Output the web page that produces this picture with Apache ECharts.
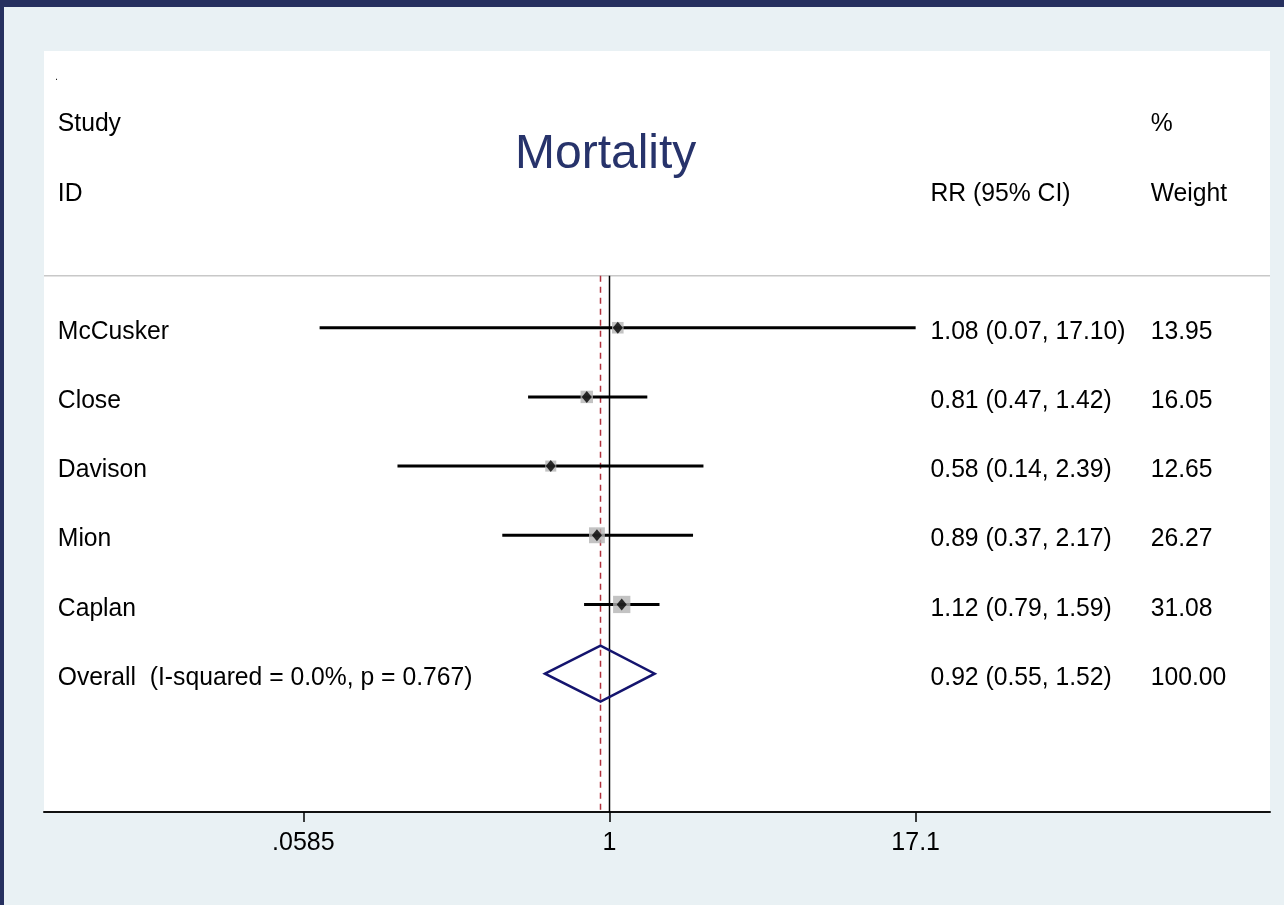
<!DOCTYPE html>
<html><head><meta charset="utf-8">
<script src="https://cdn.jsdelivr.net/npm/echarts@6/dist/echarts.min.js"></script>
<style>html,body{margin:0;padding:0;background:#e9f1f4}#c{width:1284px;height:905px}</style>
</head><body><div id="c"></div><script>
// ---- data ----
const studies = ['McCusker', 'Close', 'Davison', 'Mion', 'Caplan'];
const rr = [1.08, 0.81, 0.58, 0.89, 1.12];
const ciLow = [0.068, 0.47, 0.14, 0.37, 0.79];
const ciHigh = [17.10, 1.42, 2.39, 2.17, 1.59];
const weights = [13.95, 16.05, 12.65, 26.27, 31.08];
const rrText = ['1.08 (0.07, 17.10)', '0.81 (0.47, 1.42)', '0.58 (0.14, 2.39)', '0.89 (0.37, 2.17)', '1.12 (0.79, 1.59)'];
const weightText = ['13.95', '16.05', '12.65', '26.27', '31.08'];
const overallLabel = 'Overall  (I-squared = 0.0%, p = 0.767)';
const overallRR = 0.92, overallLow = 0.55, overallHigh = 1.52;
const overallRRText = '0.92 (0.55, 1.52)';
const overallWeightText = '100.00';
const tickValues = [0.0585, 1, 17.1];
const tickLabels = ['.0585', '1', '17.1'];

// ---- layout (log-RR space for x, row index for y) ----
const X_MIN = -5.244, X_MAX = 6.125;
const Y_MIN = -3, Y_MAX = 8;
const COL_ID = -5.116, COL_RR = 2.977, COL_W = 5.019;
const SEP_Y = 0.25;
const TEXT_DY = 4;
const FONT = '"Liberation Sans", Arial, Helvetica, sans-serif';
const ln = Math.log;

const rows = studies.map((s, i) => i + 1);
const overallRow = studies.length + 1;

const texts = [
  {x: COL_ID - 0.023, y: -2.62, t: '.', small: true},
  {x: COL_ID, y: -2, t: 'Study'},
  {x: COL_ID, y: -1, t: 'ID'},
  {x: COL_W, y: -2, t: '%'},
  {x: COL_RR, y: -1, t: 'RR (95% CI)'},
  {x: COL_W, y: -1, t: 'Weight'}
];
studies.forEach((s, i) => {
  texts.push({x: COL_ID, y: rows[i], t: s});
  texts.push({x: COL_RR, y: rows[i], t: rrText[i]});
  texts.push({x: COL_W, y: rows[i], t: weightText[i]});
});
texts.push({x: COL_ID, y: overallRow, t: overallLabel});
texts.push({x: COL_RR, y: overallRow, t: overallRRText});
texts.push({x: COL_W, y: overallRow, t: overallWeightText});

const refLines = [
  {x1: X_MIN, y1: SEP_Y, x2: X_MAX, y2: SEP_Y, color: '#c8c8c8', w: 1.5, dash: null},
  {x1: 0, y1: SEP_Y, x2: 0, y2: Y_MAX, color: '#000', w: 1.5, dash: null},
  {x1: ln(overallRR), y1: SEP_Y, x2: ln(overallRR), y2: Y_MAX, color: '#b0303c', w: 1.5, dash: [6, 5]}
];

const chart = echarts.init(document.getElementById('c'), null, {renderer: 'canvas'});
chart.setOption({
  backgroundColor: '#e9f1f4',
  animation: false,
  title: {
    text: 'Mortality', left: 510, top: 126,
    textStyle: {fontSize: 48, fontWeight: 'normal', color: '#27336b', fontFamily: FONT}
  },
  graphic: [
    {type: 'rect', shape: {x: 0, y: 0, width: 1284, height: 7}, style: {fill: '#26305f'}, z: 100},
    {type: 'rect', shape: {x: 0, y: 0, width: 4, height: 905}, style: {fill: '#26305f'}, z: 100}
  ],
  grid: {left: 44, right: 14, top: 51, bottom: 93, show: true, backgroundColor: '#ffffff', borderWidth: 0},
  xAxis: {
    type: 'value', min: X_MIN, max: X_MAX,
    axisLine: {show: true, onZero: false, lineStyle: {color: '#111', width: 2}},
    axisTick: {show: true, customValues: tickValues.map(ln), length: 10, lineStyle: {color: '#000', width: 1.5}},
    axisLabel: {
      show: true, customValues: tickValues.map(ln), margin: 19, fontSize: 25, color: '#000', fontFamily: FONT,
      formatter: v => { const i = tickValues.findIndex(t => Math.abs(ln(t) - v) < 1e-6); return i >= 0 ? tickLabels[i] : ''; }
    },
    splitLine: {show: false}
  },
  yAxis: {type: 'value', inverse: true, min: Y_MIN, max: Y_MAX, show: false},
  series: [
    {
      type: 'custom', z: 1, silent: true,
      data: refLines.map((l, i) => [l.x1, l.y1, l.x2, l.y2, i]),
      renderItem: (params, api) => {
        const l = refLines[params.dataIndex];
        const a = api.coord([l.x1, l.y1]), b = api.coord([l.x2, l.y2]);
        return {type: 'line', shape: {x1: a[0], y1: a[1], x2: b[0], y2: b[1]},
          style: {stroke: l.color, lineWidth: l.w, lineDash: l.dash}};
      }
    },
    {
      type: 'custom', z: 2, silent: true,
      data: studies.map((s, i) => [ln(ciLow[i]), ln(ciHigh[i]), rows[i]]),
      renderItem: (params, api) => {
        const a = api.coord([api.value(0), api.value(2)]), b = api.coord([api.value(1), api.value(2)]);
        return {type: 'line', shape: {x1: a[0], y1: a[1], x2: b[0], y2: b[1]}, style: {stroke: '#000', lineWidth: 3}};
      }
    },
    {
      type: 'scatter', z: 3, silent: true, symbol: 'rect',
      symbolSize: v => 3.1 * Math.sqrt(v[2]),
      itemStyle: {color: '#b4b4b4'},
      data: studies.map((s, i) => [ln(rr[i]), rows[i], weights[i]])
    },
    {
      type: 'scatter', z: 4, silent: true, symbol: 'diamond', symbolSize: [10, 12],
      itemStyle: {color: '#000'},
      data: studies.map((s, i) => [ln(rr[i]), rows[i]])
    },
    {
      type: 'custom', z: 4, silent: true,
      data: [[ln(overallLow), ln(overallRR), ln(overallHigh), overallRow]],
      renderItem: (params, api) => {
        const y = api.value(3), h = 0.405;
        const pts = [
          api.coord([api.value(0), y]), api.coord([api.value(1), y - h]),
          api.coord([api.value(2), y]), api.coord([api.value(1), y + h])
        ];
        return {type: 'polygon', shape: {points: pts}, style: {fill: 'none', stroke: '#14146e', lineWidth: 2.5}};
      }
    },
    {
      type: 'custom', z: 5, silent: true,
      data: texts.map((t, i) => [t.x, t.y, i]),
      renderItem: (params, api) => {
        const t = texts[params.dataIndex];
        const p = api.coord([t.x, t.y]);
        return {type: 'text', x: p[0], y: p[1] + (t.small ? 0 : TEXT_DY), scaleX: 0.95,
          style: {text: t.t, fill: '#000', font: (t.small ? '10px ' : '26px ') + FONT, align: 'left', verticalAlign: 'middle'}};
      }
    }
  ]
});
</script></body></html>
